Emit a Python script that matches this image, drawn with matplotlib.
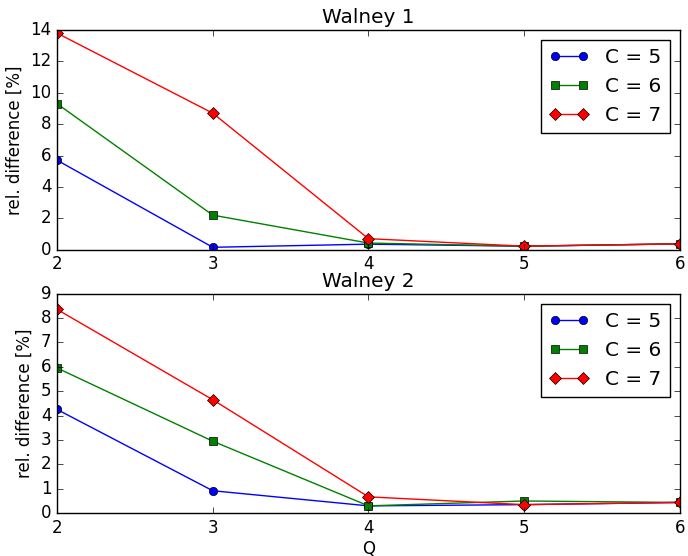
import matplotlib
matplotlib.use("Agg")
import matplotlib.pyplot as plt

plt.style.use("classic")

Q = [2, 3, 4, 5, 6]
labels = ["C = 5", "C = 6", "C = 7"]
markers = ["o", "s", "D"]
colors = ["b", "g", "r"]

# Walney 1
w1_c5 = [5.7, 0.15, 0.35, 0.22, 0.37]
w1_c6 = [9.3, 2.2, 0.42, 0.22, 0.37]
w1_c7 = [13.8, 8.7, 0.7, 0.22, 0.37]

# Walney 2
w2_c5 = [4.25, 0.92, 0.3, 0.35, 0.44]
w2_c6 = [5.95, 2.95, 0.3, 0.5, 0.44]
w2_c7 = [8.35, 4.65, 0.67, 0.35, 0.44]

fig, (ax1, ax2) = plt.subplots(2, 1, figsize=(6.88, 5.56), dpi=100)
fig.patch.set_facecolor("white")

for ax, series, title, ymax in [(ax1, [w1_c5, w1_c6, w1_c7], "Walney 1", 14),
                                (ax2, [w2_c5, w2_c6, w2_c7], "Walney 2", 9)]:
    for vals, lab, m, c in zip(series, labels, markers, colors):
        ax.plot(Q, vals, marker=m, color=c, label=lab)
    ax.set_xlim(2, 6)
    ax.set_ylim(0, ymax)
    ax.set_xticks(Q)
    ax.set_title(title)
    ax.set_ylabel("rel. difference [%]")
    ax.legend(loc="upper right")

ax2.set_xlabel("Q", labelpad=2)

plt.subplots_adjust(left=0.083, right=0.988, top=0.946, bottom=0.077, hspace=0.2)
plt.savefig("out.png", dpi=100, facecolor="white")
